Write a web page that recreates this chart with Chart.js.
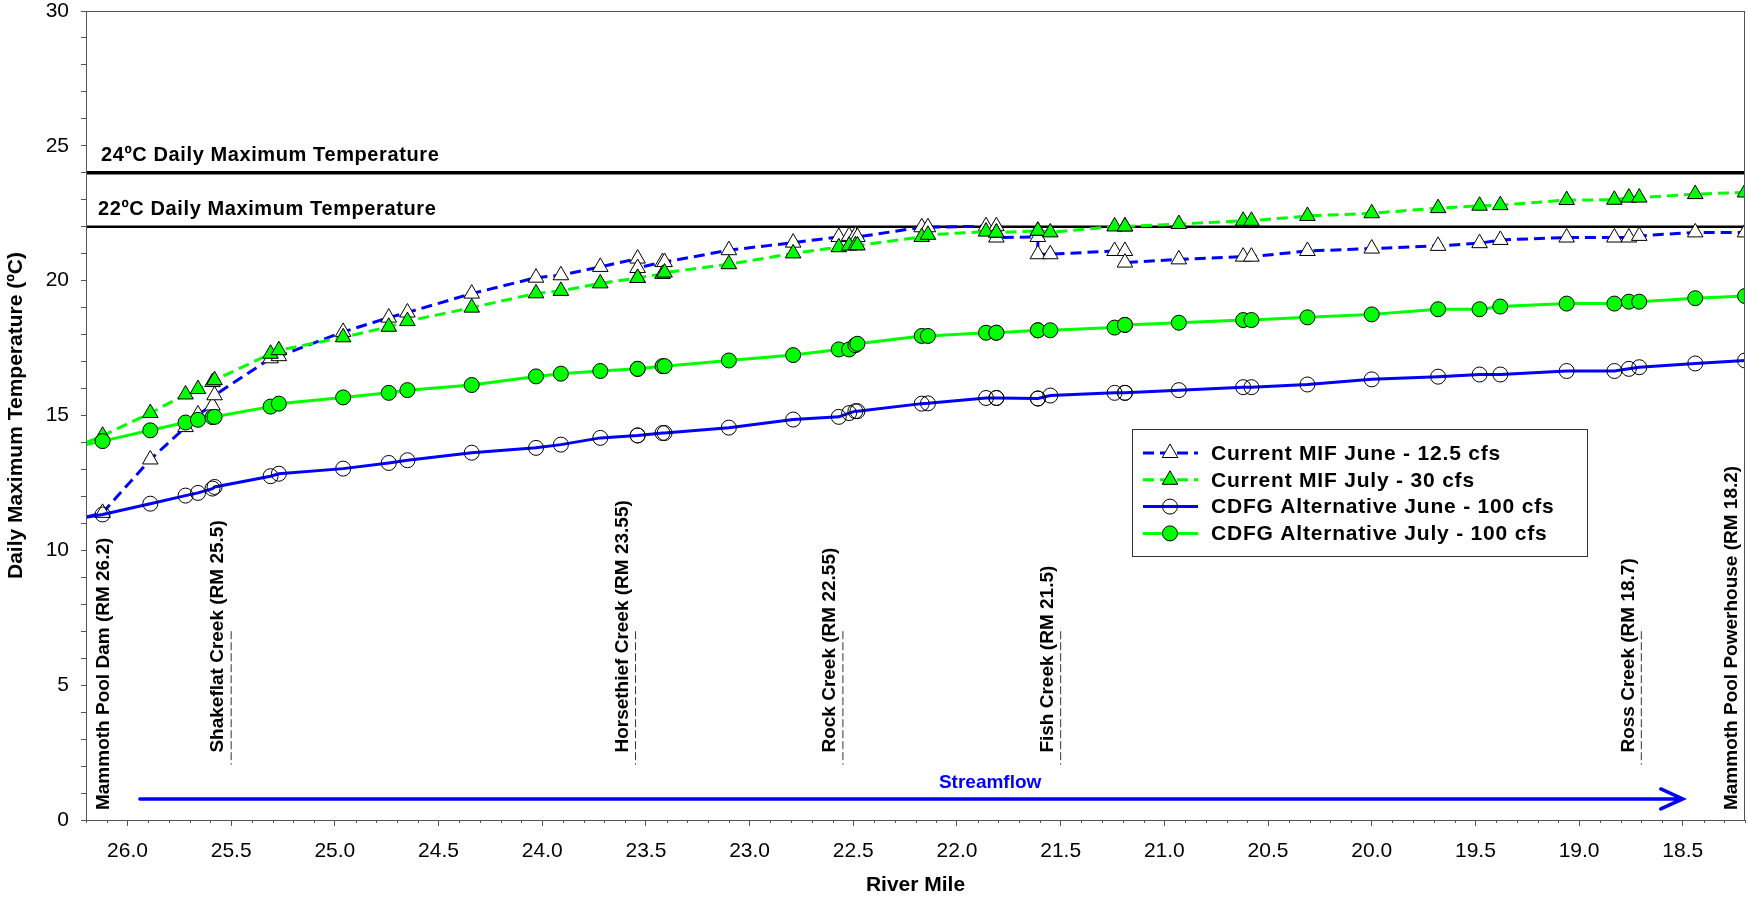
<!DOCTYPE html>
<html lang="en">
<head>
  <meta charset="UTF-8">
  <title>Daily Maximum Temperature by River Mile</title>
  <style>
    body {
      margin: 0;
      padding: 0;
      background: #ffffff;
      overflow: hidden;
    }
  </style>
</head>
<body>
  <canvas id="tempChart" width="1748" height="901"></canvas>

  <script src="https://cdn.jsdelivr.net/npm/chart.js"></script>
  <script>
    // river mile of every model node (repeated miles = step at a tributary)
    const riverMile = [26.2, 26.12, 25.89, 25.72, 25.66, 25.59, 25.58, 25.31, 25.27, 24.96,
      24.74, 24.65, 24.34, 24.03, 23.91, 23.72, 23.54, 23.54, 23.42, 23.41,
      23.10, 22.79, 22.57, 22.52, 22.49, 22.48, 22.17, 22.14, 21.86, 21.81,
      21.81, 21.61, 21.61, 21.55, 21.24, 21.19, 21.19, 20.93, 20.62, 20.58,
      20.31, 20.00, 19.68, 19.48, 19.38, 19.06, 18.83, 18.76, 18.71, 18.44, 18.2];

    const mifJune = [11.23, 11.39, 13.37, 14.57, 15.04, 15.37, 15.75, 17.12, 17.20, 18.10,
      18.63, 18.82, 19.52, 20.11, 20.20, 20.51, 20.82, 20.47, 20.69, 20.69,
      21.13, 21.41, 21.62, 21.66, 21.68, 21.62, 21.98, 21.98, 22.02, 22.02,
      21.60, 21.62, 20.98, 20.98, 21.10, 21.10, 20.67, 20.79, 20.89, 20.89,
      21.10, 21.19, 21.29, 21.39, 21.51, 21.60, 21.60, 21.60, 21.66, 21.79, 21.79];

    const mifJuly = [13.99, 14.25, 15.09, 15.78, 15.98, 16.24, 16.31, 17.29, 17.42, 17.90,
      18.29, 18.50, 19.00, 19.53, 19.62, 19.90, 20.10, 20.10, 20.25, 20.30,
      20.61, 21.01, 21.24, 21.30, 21.31, 21.31, 21.62, 21.70, 21.82, 21.78,
      21.78, 21.85, 21.85, 21.79, 22.01, 22.01, 22.01, 22.10, 22.22, 22.22,
      22.40, 22.50, 22.69, 22.78, 22.80, 22.99, 23.00, 23.08, 23.08, 23.21, 23.27];

    const cdfgJune = [11.23, 11.33, 11.73, 12.03, 12.13, 12.29, 12.35, 12.75, 12.84, 13.03,
      13.24, 13.34, 13.62, 13.80, 13.92, 14.17, 14.26, 14.26, 14.35, 14.35,
      14.55, 14.85, 14.95, 15.09, 15.16, 15.16, 15.44, 15.45, 15.65, 15.65,
      15.65, 15.63, 15.63, 15.74, 15.84, 15.84, 15.84, 15.94, 16.05, 16.05,
      16.15, 16.34, 16.44, 16.52, 16.52, 16.65, 16.65, 16.73, 16.79, 16.93, 17.04];

    const cdfgJuly = [13.92, 14.05, 14.45, 14.74, 14.84, 14.94, 14.95, 15.33, 15.44, 15.67,
      15.84, 15.94, 16.13, 16.45, 16.55, 16.65, 16.73, 16.73, 16.83, 16.83,
      17.04, 17.24, 17.45, 17.45, 17.61, 17.66, 17.95, 17.95, 18.07, 18.07,
      18.07, 18.16, 18.16, 18.16, 18.26, 18.36, 18.36, 18.44, 18.54, 18.54,
      18.64, 18.75, 18.94, 18.94, 19.04, 19.15, 19.15, 19.22, 19.22, 19.35, 19.43];

    const seriesNames = ['Current MIF June - 12.5 cfs', 'Current MIF July - 30 cfs',
      'CDFG Alternative June - 100 cfs', 'CDFG Alternative July - 100 cfs'];

    const xTickLabels = ['26.0', '25.5', '25.0', '24.5', '24.0', '23.5', '23.0', '22.5',
      '22.0', '21.5', '21.0', '20.5', '20.0', '19.5', '19.0', '18.5'];
    const yTickLabels = [0, 5, 10, 15, 20, 25, 30];

    const thresholds = [24, 22];
    const thresholdNames = ['24ºC Daily Maximum Temperature', '22ºC Daily Maximum Temperature'];

    const siteNames = ['Mammoth Pool Dam (RM 26.2)', 'Shakeflat Creek (RM 25.5)',
      'Horsethief Creek (RM 23.55)', 'Rock Creek (RM 22.55)', 'Fish Creek (RM 21.5)',
      'Ross Creek (RM 18.7)', 'Mammoth Pool Powerhouse (RM 18.2)'];
    const siteMiles = [26.2, 25.5, 23.55, 22.55, 21.5, 18.7, 18.2];
    const siteIsCreek = [false, true, true, true, true, true, false];

    const FONT = '"Liberation Sans", Arial, sans-serif';
    const BLUE = '#0000ff';
    const GREEN = '#00ff00';
    const AXIS = '#555555';

    function points(vals) {
      return riverMile.map((m, i) => ({ x: m, y: vals[i] }));
    }

    // the node at the dam sits on the axis and has no marker
    function radius(r) {
      return c => (c.dataIndex === 0 ? 0 : r);
    }

    function isLabelled(v) {
      return xTickLabels.includes(Number(v).toFixed(1));
    }

    const styles = [
      { color: BLUE, dash: [11, 6], shape: 'triangle', fill: '#ffffff', r: 9 },
      { color: GREEN, dash: [11, 6], shape: 'triangle', fill: GREEN, r: 9 },
      { color: BLUE, dash: [], shape: 'circle', fill: 'rgba(0,0,0,0)', r: 7.5 },
      { color: GREEN, dash: [], shape: 'circle', fill: GREEN, r: 7.5 }
    ];
    const seriesValues = [mifJune, mifJuly, cdfgJune, cdfgJuly];

    const datasets = seriesValues.map((vals, i) => ({
      label: seriesNames[i],
      data: points(vals),
      borderColor: styles[i].color,
      borderWidth: 3,
      borderDash: styles[i].dash,
      tension: 0,
      pointStyle: styles[i].shape,
      pointRadius: radius(styles[i].r),
      pointHoverRadius: radius(styles[i].r),
      pointBackgroundColor: styles[i].fill,
      pointBorderColor: '#000000',
      pointBorderWidth: 1,
      clip: 0,
      order: 3 - i
    }));

    const annotations = {
      id: 'annotations',
      beforeDatasetsDraw(chart) {
        const { ctx, chartArea, scales: { x, y } } = chart;
        ctx.save();

        // short minor ticks on the river mile axis
        ctx.strokeStyle = AXIS;
        ctx.lineWidth = 1;
        ctx.beginPath();
        x.ticks.forEach(t => {
          if (isLabelled(t.value)) return;
          const px = Math.round(x.getPixelForValue(t.value)) + 0.5;
          ctx.moveTo(px, chartArea.bottom);
          ctx.lineTo(px, chartArea.bottom + 3);
        });
        ctx.stroke();

        // temperature criteria lines and their captions
        thresholds.forEach((t, i) => {
          const py = y.getPixelForValue(t);
          ctx.beginPath();
          ctx.strokeStyle = '#000000';
          ctx.lineWidth = i === 0 ? 3.5 : 2.5;
          ctx.moveTo(chartArea.left, py);
          ctx.lineTo(chartArea.right, py);
          ctx.stroke();
          ctx.fillStyle = '#000000';
          ctx.font = 'bold 20px ' + FONT;
          ctx.textAlign = 'left';
          ctx.textBaseline = 'alphabetic';
          if ('letterSpacing' in ctx) ctx.letterSpacing = '0.6px';
          ctx.fillText(thresholdNames[i], chartArea.left + 15 - i * 3, py - 12);
          if ('letterSpacing' in ctx) ctx.letterSpacing = '0px';
        });

        // site labels, creeks get a dashed marker at their river mile
        siteNames.forEach((name, i) => {
          const px = x.getPixelForValue(siteMiles[i]);
          let tx = px - 13;
          tx = Math.max(tx, chartArea.left + 18);
          const ty = siteIsCreek[i] ? y.getPixelForValue(2.5) : y.getPixelForValue(0.37);
          if (siteIsCreek[i]) {
            ctx.beginPath();
            ctx.strokeStyle = '#333333';
            ctx.lineWidth = 1;
            ctx.setLineDash([8, 3]);
            ctx.moveTo(px, y.getPixelForValue(7));
            ctx.lineTo(px, y.getPixelForValue(2.05));
            ctx.stroke();
            ctx.setLineDash([]);
          }
          ctx.save();
          ctx.translate(tx, ty);
          ctx.rotate(-Math.PI / 2);
          ctx.fillStyle = '#000000';
          ctx.font = 'bold 19px ' + FONT;
          ctx.textAlign = 'left';
          ctx.textBaseline = 'middle';
          ctx.fillText(name, 0, 0);
          ctx.restore();
        });

        // streamflow direction arrow
        const ay = y.getPixelForValue(0.78);
        const ax0 = x.getPixelForValue(25.94);
        const ax1 = x.getPixelForValue(18.5);
        ctx.strokeStyle = BLUE;
        ctx.lineWidth = 3.5;
        ctx.lineCap = 'round';
        ctx.beginPath();
        ctx.moveTo(ax0, ay);
        ctx.lineTo(ax1, ay);
        ctx.moveTo(ax1 - 22, ay - 10);
        ctx.lineTo(ax1, ay);
        ctx.lineTo(ax1 - 22, ay + 10);
        ctx.stroke();
        ctx.fillStyle = BLUE;
        ctx.font = 'bold 19px ' + FONT;
        ctx.textAlign = 'center';
        ctx.textBaseline = 'alphabetic';
        ctx.fillText('Streamflow', x.getPixelForValue(21.84), ay - 11);

        ctx.restore();
      },
      afterDraw(chart) {
        const { ctx, chartArea } = chart;
        ctx.save();

        // plot frame
        ctx.strokeStyle = AXIS;
        ctx.lineWidth = 1;
        ctx.strokeRect(chartArea.left + 0.5, chartArea.top + 0.5,
          chartArea.right - chartArea.left - 1, chartArea.bottom - chartArea.top);

        // legend
        const bx = 1132, by = 429, bw = 455, bh = 127;
        ctx.fillStyle = '#ffffff';
        ctx.fillRect(bx, by, bw, bh);
        ctx.strokeStyle = '#333333';
        ctx.strokeRect(bx + 0.5, by + 0.5, bw, bh);
        styles.forEach((s, i) => {
          const ry = by + 24 + i * 26.8;
          ctx.beginPath();
          ctx.strokeStyle = s.color;
          ctx.lineWidth = 3;
          ctx.setLineDash(s.dash);
          ctx.moveTo(bx + 11, ry);
          ctx.lineTo(bx + 66, ry);
          ctx.stroke();
          ctx.setLineDash([]);
          ctx.fillStyle = s.fill;
          ctx.strokeStyle = '#000000';
          ctx.lineWidth = 1;
          Chart.helpers.drawPoint(ctx, { pointStyle: s.shape, radius: s.r, borderWidth: 1, rotation: 0 },
            bx + 38, ry);
          ctx.fillStyle = '#000000';
          ctx.font = 'bold 21px ' + FONT;
          ctx.textAlign = 'left';
          ctx.textBaseline = 'middle';
          if ('letterSpacing' in ctx) ctx.letterSpacing = '0.8px';
          ctx.fillText(seriesNames[i], bx + 79, ry + 1);
          if ('letterSpacing' in ctx) ctx.letterSpacing = '0px';
        });

        ctx.restore();
      }
    };

    new Chart(document.getElementById('tempChart'), {
      type: 'line',
      data: { datasets },
      options: {
        responsive: false,
        animation: false,
        layout: { autoPadding: false, padding: { top: 11, right: 3, bottom: 0, left: 0 } },
        plugins: {
          legend: { display: false },
          tooltip: { enabled: false }
        },
        scales: {
          x: {
            type: 'linear',
            reverse: true,
            min: 18.2,
            max: 26.2,
            afterBuildTicks(scale) {
              const ticks = [];
              for (let k = 182; k <= 262; k++) ticks.push({ value: k / 10 });
              scale.ticks = ticks;
            },
            afterFit(scale) {
              scale.height = 81;
              scale.paddingLeft = 0;
              scale.paddingRight = 0;
            },
            ticks: {
              autoSkip: false,
              maxRotation: 0,
              padding: 13,
              color: '#000000',
              font: { family: FONT, size: 21 },
              callback: v => (isLabelled(v) ? Number(v).toFixed(1) : '')
            },
            grid: {
              drawOnChartArea: false,
              tickLength: 6,
              color: AXIS,
              tickColor: c => (c.tick && isLabelled(c.tick.value) ? AXIS : 'rgba(0,0,0,0)')
            },
            border: { display: true, color: AXIS },
            title: {
              display: true,
              text: 'River Mile',
              color: '#000000',
              font: { family: FONT, size: 21, weight: 'bold' },
              padding: { top: 0, bottom: 3 }
            }
          },
          y: {
            min: 0,
            max: 30,
            afterFit(scale) {
              scale.width = 86;
              scale.paddingTop = 0;
              scale.paddingBottom = 0;
            },
            ticks: {
              stepSize: 1,
              autoSkip: false,
              padding: 12,
              color: '#000000',
              font: { family: FONT, size: 21, lineHeight: 1 },
              callback: v => (yTickLabels.includes(v) ? String(v) : '')
            },
            grid: { drawOnChartArea: false, tickLength: 5, color: AXIS },
            border: { display: true, color: AXIS },
            title: {
              display: true,
              text: 'Daily Maximum Temperature (ºC)',
              color: '#000000',
              font: { family: FONT, size: 21, weight: 'bold' },
              padding: { top: 4, bottom: 0 }
            }
          }
        }
      },
      plugins: [annotations]
    });
  </script>
</body>
</html>
